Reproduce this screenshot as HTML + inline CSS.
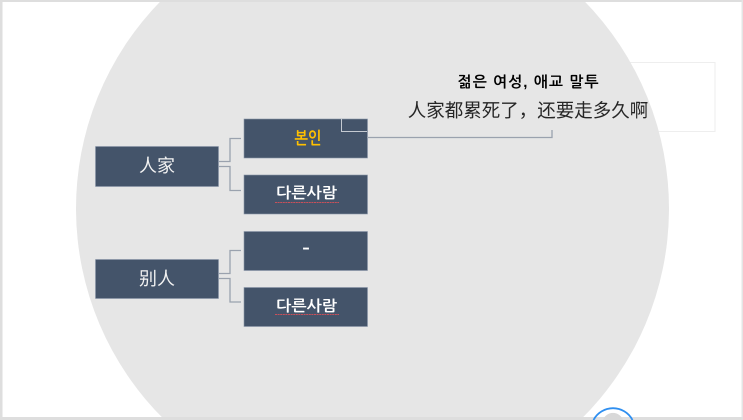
<!DOCTYPE html>
<html><head><meta charset="utf-8"><style>
html,body{margin:0;padding:0;background:#fff;width:743px;height:420px;overflow:hidden}
svg{display:block}
.k{font-family:"Liberation Sans","NanumGothic","Noto Sans CJK KR",sans-serif;font-weight:700}
.c{font-family:"Liberation Sans","Noto Sans CJK SC",sans-serif}
</style></head><body>
<svg width="743" height="420" viewBox="0 0 743 420" xmlns="http://www.w3.org/2000/svg">
<rect width="743" height="420" fill="#fff"/>
<rect x="480" y="62.500" width="235" height="69" fill="#fff" stroke="#eeeeee"/>
<path d="M161.700 0A296.500 296.500 0 0 0 164.700 420L580.300 420A296.500 296.500 0 0 0 583.300 0Z" fill="#e6e6e6"/>
<rect x="0" y="0" width="743" height="2" fill="#dedede"/>
<rect x="0" y="0" width="2.500" height="420" fill="#dedede"/>
<rect x="741.500" y="0" width="1.500" height="420" fill="#e4e4e4"/>
<rect x="0" y="417" width="743" height="3" fill="#dedede"/>
<g fill="#44546a" stroke="#8a97a8" stroke-width=".6">
<rect x="95.500" y="146.500" width="123" height="40"/>
<rect x="244" y="119" width="123.500" height="39"/>
<rect x="244" y="175" width="123.500" height="39"/>
<rect x="95.500" y="259.500" width="123" height="39"/>
<rect x="244" y="231.500" width="123.500" height="39"/>
<rect x="244" y="287.500" width="123.500" height="39"/>
</g>
<g fill="none" stroke="#9aa2ae" stroke-width="1.300">
<path d="M219 161.500H230V138.500H241"/>
<path d="M219 166.500H230V190.500H241"/>
<path d="M219 273.500H230V250.500H241"/>
<path d="M219 278.500H230V302H241"/>
<path d="M367 137.500H552V130"/>
</g>
<path d="M341.500 119V131.500H367" fill="none" stroke="#c5cad2" stroke-width="1"/>
<g class="c" fill="#f2f2f2" font-size="18" text-anchor="middle">
<text x="157" y="172">人家</text>
<text x="157" y="285">别人</text>
</g>
<g class="k" font-size="15" text-anchor="middle" fill="#fff">
<text x="308" y="144" fill="#ffc000" font-size="17" textLength="27" lengthAdjust="spacingAndGlyphs">본인</text>
<text x="306.500" y="198" textLength="61" lengthAdjust="spacingAndGlyphs">다른사람</text>
<text x="306" y="255" font-size="24" font-weight="400">-</text>
<text x="306.500" y="311" textLength="61" lengthAdjust="spacingAndGlyphs">다른사람</text>
</g>
<path d="M275 202.500H339" stroke="#c8505a" stroke-width="1" fill="none" stroke-dasharray="2 .6"/>
<path d="M275 314.500H339" stroke="#c8505a" stroke-width="1" fill="none" stroke-dasharray="2 .6"/>
<text class="k" x="528" y="87" font-size="15" text-anchor="middle" fill="#000" textLength="141" lengthAdjust="spacing">젊은 여성, 애교 말투</text>
<text class="c" x="528" y="117" font-size="18.500" text-anchor="middle" fill="#262626">人家都累死了，还要走多久啊</text>
<path d="M593.500 420A22 22 0 0 1 632.500 420" fill="none" stroke="#2f8ff0" stroke-width="1.800"/>
<path d="M603 420A10.600 10.600 0 0 1 623 420Z" fill="#d8d8d8"/>
</svg>
</body></html>
